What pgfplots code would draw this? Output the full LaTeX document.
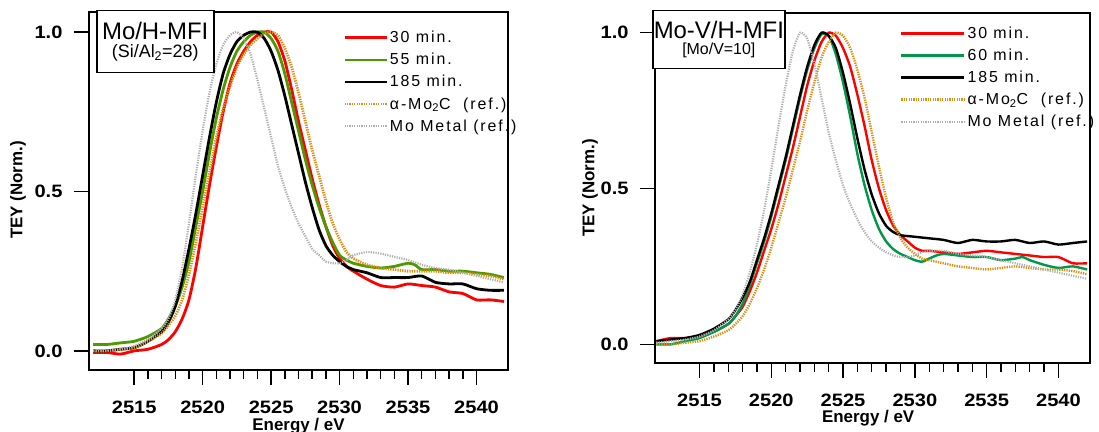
\documentclass[border=0pt]{standalone}
\usepackage{fontspec}
\setmainfont{Liberation Sans}
\newfontfamily\legfont[LetterSpace=12]{Liberation Sans}
\newfontfamily\tickfont[FakeStretch=1.12]{Liberation Sans Bold}
\usepackage{pgfplots}
\pgfplotsset{compat=1.18}

\definecolor{tred}{RGB}{255,0,0}
\definecolor{lgreen}{RGB}{77,153,0}
\definecolor{rgreen}{RGB}{0,152,72}
\definecolor{moc}{RGB}{214,145,20}
\definecolor{mom}{RGB}{175,175,175}

\pgfplotsset{
  xas/.style={
    scale only axis,
    axis line style={line width=1.4bp},
    xmin=2511.7, xmax=2542.3, ymin=-0.06, ymax=1.063,
    xtick={2515,2520,...,2540}, minor x tick num=4,
    ytick={0,0.5,1},
    tick align=outside, xtick pos=lower, ytick pos=left,
    major tick length=15bp, minor tick length=9bp,
    every tick/.style={line width=1.4bp, black},
    every minor tick/.style={line width=1.4bp, black},
    tick label style={font=\fontsize{18}{18}\tickfont},
    /pgf/number format/assume math mode=true,
    xticklabel style={yshift=-12bp, /pgf/number format/1000 sep={}},
    yticklabel style={xshift=-8bp, /pgf/number format/fixed,
      /pgf/number format/fixed zerofill, /pgf/number format/precision=1},
    label style={font=\fontsize{17}{17}\selectfont\bfseries},
    xlabel={Energy / eV}, ylabel={TEY (Norm.)},
    legend cell align=left,
    legend style={draw=none, fill=none, font=\fontsize{16}{18}\legfont, row sep=5bp, inner sep=0pt},
  },
  sol/.style={line width=2.8bp, line join=round, smooth, tension=0.4},
  dotc/.style={moc, line width=2.8bp, dash pattern=on 1.3bp off 1.1bp, smooth, tension=0.4},
  dotm/.style={mom, line width=2.2bp, dash pattern=on 1.2bp off 1.2bp, smooth, tension=0.4},
}

\begin{document}
\begin{tikzpicture}[x=1bp,y=1bp]

% ---------- left: Mo/H-MFI ----------
\begin{axis}[xas,
  at={(89bp,62bp)}, anchor=south west, width=419bp, height=358bp,
  ylabel style={at={(rel axis cs:0,0.503)}, anchor=center, yshift=71bp},
  xlabel style={at={(rel axis cs:0.5,0)}, anchor=center, yshift=-56bp},
  legend style={at={(rel axis cs:0.606,0.952)}, anchor=north west},
  legend image code/.code={\draw[#1] (0bp,0bp) -- (42bp,0bp);},
]
\addplot[sol, tred] coordinates {
(2512,-0.005)(2513,-0.005)(2514,-0.01)(2515,0.0)(2516,0.005)(2517,0.02)(2517.5,0.035)
(2518,0.06)(2518.5,0.10)(2519,0.16)(2519.5,0.26)(2520,0.39)(2520.5,0.52)(2521,0.64)
(2521.5,0.75)(2522,0.84)(2522.5,0.90)(2523,0.94)(2523.5,0.97)(2524,0.99)(2524.5,1.0)
(2525,1.0)(2525.5,0.97)(2526,0.91)(2526.5,0.82)(2527,0.72)(2527.5,0.63)(2528,0.54)
(2528.5,0.46)(2529,0.39)(2529.5,0.33)(2530,0.29)(2530.5,0.265)(2531,0.25)(2532,0.225)
(2533,0.205)(2534,0.20)(2535,0.21)(2536,0.205)(2537,0.20)(2538,0.185)(2539,0.18)
(2540,0.16)(2541,0.16)(2542,0.155)};
\addlegendentry{30 min.}
\addplot[sol, lgreen] coordinates {
(2512,0.02)(2513,0.02)(2514,0.025)(2515,0.03)(2516,0.045)(2517,0.07)(2517.5,0.10)
(2518,0.14)(2518.5,0.20)(2519,0.28)(2519.5,0.39)(2520,0.50)(2520.5,0.62)(2521,0.73)
(2521.5,0.82)(2522,0.89)(2522.5,0.94)(2523,0.97)(2523.5,0.99)(2524,1.0)(2524.5,1.0)
(2525,0.98)(2525.5,0.94)(2526,0.87)(2526.5,0.78)(2527,0.69)(2527.5,0.60)(2528,0.52)
(2528.5,0.45)(2529,0.39)(2529.5,0.34)(2530,0.30)(2530.5,0.285)(2531,0.275)(2532,0.265)
(2533,0.26)(2534,0.265)(2535,0.275)(2535.5,0.27)(2536,0.255)(2537,0.255)(2538,0.25)
(2539,0.25)(2540,0.245)(2541,0.24)(2542,0.23)};
\addlegendentry{55 min.}
\addplot[sol, black] coordinates {
(2512,0.0)(2513,0.0)(2514,0.005)(2515,0.01)(2516,0.03)(2517,0.06)(2517.5,0.09)
(2518,0.14)(2518.5,0.22)(2519,0.32)(2519.5,0.43)(2520,0.55)(2520.5,0.67)(2521,0.78)
(2521.5,0.87)(2522,0.93)(2522.5,0.97)(2523,0.99)(2523.5,1.0)(2524,1.0)(2524.5,0.98)
(2525,0.94)(2525.5,0.88)(2526,0.80)(2526.5,0.71)(2527,0.62)(2527.5,0.53)(2528,0.45)
(2528.5,0.38)(2529,0.33)(2529.5,0.30)(2530,0.28)(2530.5,0.265)(2531,0.255)(2532,0.245)
(2533,0.23)(2534,0.23)(2535,0.23)(2536,0.235)(2537,0.215)(2538,0.21)(2539,0.21)
(2540,0.195)(2541,0.19)(2542,0.19)};
\addlegendentry{185 min.}
\addplot[dotc] coordinates {
(2512,0.0)(2513,0.0)(2514,0.005)(2515,0.01)(2516,0.03)(2517,0.055)(2517.5,0.08)
(2518,0.11)(2518.5,0.16)(2519,0.24)(2519.5,0.34)(2520,0.45)(2520.5,0.56)(2521,0.67)
(2521.5,0.76)(2522,0.83)(2522.5,0.89)(2523,0.93)(2523.5,0.96)(2524,0.98)(2524.5,0.995)
(2525,1.0)(2525.5,0.99)(2526,0.95)(2526.5,0.89)(2527,0.81)(2527.5,0.72)(2528,0.63)
(2528.5,0.55)(2529,0.47)(2529.5,0.40)(2530,0.35)(2530.5,0.31)(2531,0.29)(2532,0.27)
(2533,0.26)(2534,0.255)(2535,0.25)(2536,0.25)(2537,0.25)(2538,0.245)(2539,0.245)
(2540,0.24)(2541,0.235)(2542,0.225)};
\addlegendentry{α-Mo\textsubscript{2}C\ \ (ref.)}
\addplot[dotm] coordinates {
(2512,0.0)(2513,0.0)(2514,0.005)(2515,0.015)(2516,0.035)(2517,0.07)(2517.5,0.10)
(2518,0.16)(2518.5,0.26)(2519,0.40)(2519.5,0.55)(2520,0.69)(2520.5,0.81)(2521,0.90)
(2521.5,0.96)(2522,0.99)(2522.5,1.0)(2523,0.98)(2523.5,0.93)(2524,0.85)(2524.5,0.76)
(2525,0.67)(2525.5,0.58)(2526,0.51)(2526.5,0.45)(2527,0.40)(2527.5,0.36)(2528,0.32)
(2528.5,0.30)(2529,0.28)(2529.5,0.275)(2530,0.275)(2530.5,0.285)(2531,0.30)(2532,0.31)
(2533,0.305)(2534,0.295)(2535,0.285)(2536,0.27)(2537,0.26)(2538,0.255)(2539,0.245)
(2540,0.235)(2541,0.225)(2542,0.215)};
\addlegendentry{Mo Metal (ref.)}
\end{axis}

% ---------- right: Mo-V/H-MFI ----------
\begin{axis}[xas,
  at={(655bp,69bp)}, anchor=south west, width=435bp, height=350bp,
  xmin=2511.9, xmax=2542.2,
  ylabel style={at={(rel axis cs:0,0.5)}, anchor=center, yshift=65bp},
  xlabel style={at={(rel axis cs:0.49,0)}, anchor=center, yshift=-55bp},
  legend style={at={(rel axis cs:0.563,0.966)}, anchor=north west},
  legend image code/.code={\draw[#1] (0bp,0bp) -- (63bp,0bp);},
]
\addplot[sol, line width=2.4bp, tred] coordinates {
(2512,0.01)(2513,0.02)(2514,0.02)(2515,0.025)(2516,0.04)(2517,0.065)(2517.5,0.09)
(2518,0.12)(2518.5,0.17)(2519,0.23)(2519.5,0.30)(2520,0.37)(2520.5,0.45)(2521,0.54)
(2521.5,0.63)(2522,0.73)(2522.5,0.83)(2523,0.91)(2523.5,0.97)(2524,1.0)(2524.5,0.99)
(2525,0.95)(2525.5,0.89)(2526,0.80)(2526.5,0.70)(2527,0.59)(2527.5,0.50)(2528,0.43)
(2528.5,0.38)(2529,0.35)(2529.5,0.33)(2530,0.31)(2530.5,0.30)(2531,0.30)(2532,0.295)
(2533,0.29)(2534,0.295)(2535,0.30)(2536,0.295)(2537,0.29)(2538,0.285)(2539,0.28)
(2540,0.28)(2541,0.26)(2542,0.26)};
\addlegendentry{30 min.}
\addplot[sol, line width=2.4bp, rgreen] coordinates {
(2512,0.0)(2513,0.0)(2514,0.01)(2515,0.02)(2516,0.04)(2517,0.065)(2517.5,0.09)
(2518,0.13)(2518.5,0.19)(2519,0.26)(2519.5,0.33)(2520,0.41)(2520.5,0.50)(2521,0.59)
(2521.5,0.69)(2522,0.79)(2522.5,0.88)(2523,0.95)(2523.5,0.995)(2524,0.99)(2524.5,0.93)
(2525,0.84)(2525.5,0.73)(2526,0.61)(2526.5,0.51)(2527,0.43)(2527.5,0.37)(2528,0.33)
(2528.5,0.305)(2529,0.29)(2529.5,0.28)(2530,0.27)(2530.5,0.265)(2531,0.275)(2531.5,0.285)
(2532,0.29)(2533,0.285)(2534,0.28)(2535,0.28)(2536,0.27)(2537,0.275)(2537.5,0.28)
(2538,0.27)(2539,0.255)(2540,0.245)(2541,0.25)(2542,0.24)};
\addlegendentry{60 min.}
\addplot[sol, line width=2.4bp, black] coordinates {
(2512,0.01)(2513,0.015)(2514,0.02)(2515,0.03)(2516,0.05)(2517,0.08)(2517.5,0.11)
(2518,0.15)(2518.5,0.20)(2519,0.27)(2519.5,0.34)(2520,0.42)(2520.5,0.51)(2521,0.60)
(2521.5,0.70)(2522,0.80)(2522.5,0.89)(2523,0.96)(2523.5,1.0)(2524,0.99)(2524.5,0.95)
(2525,0.87)(2525.5,0.77)(2526,0.66)(2526.5,0.56)(2527,0.48)(2527.5,0.42)(2528,0.38)
(2528.5,0.36)(2529,0.35)(2530,0.345)(2531,0.34)(2532,0.335)(2533,0.325)(2534,0.335)
(2535,0.33)(2536,0.33)(2537,0.335)(2538,0.325)(2539,0.33)(2540,0.32)(2541,0.325)
(2542,0.33)};
\addlegendentry{185 min.}
\addplot[dotc, line width=2.4bp] coordinates {
(2512,0.0)(2513,0.0)(2514,0.005)(2515,0.01)(2516,0.025)(2517,0.045)(2517.5,0.065)
(2518,0.09)(2518.5,0.13)(2519,0.18)(2519.5,0.24)(2520,0.31)(2520.5,0.39)(2521,0.47)
(2521.5,0.56)(2522,0.65)(2522.5,0.75)(2523,0.84)(2523.5,0.92)(2524,0.97)(2524.5,1.0)
(2525,0.99)(2525.5,0.95)(2526,0.88)(2526.5,0.79)(2527,0.68)(2527.5,0.57)(2528,0.47)
(2528.5,0.39)(2529,0.34)(2529.5,0.31)(2530,0.29)(2530.5,0.275)(2531,0.27)(2532,0.26)
(2533,0.25)(2534,0.245)(2535,0.24)(2536,0.245)(2537,0.25)(2538,0.245)(2539,0.24)
(2540,0.24)(2541,0.235)(2542,0.225)};
\addlegendentry{α-Mo\textsubscript{2}C\ \ (ref.)}
\addplot[dotm] coordinates {
(2512,0.005)(2513,0.01)(2514,0.015)(2515,0.025)(2516,0.045)(2517,0.08)(2517.5,0.11)
(2518,0.16)(2518.5,0.23)(2519,0.32)(2519.5,0.43)(2520,0.56)(2520.5,0.70)(2521,0.83)
(2521.5,0.94)(2522,1.0)(2522.5,0.98)(2523,0.90)(2523.5,0.79)(2524,0.68)(2524.5,0.59)
(2525,0.51)(2525.5,0.45)(2526,0.40)(2526.5,0.36)(2527,0.33)(2527.5,0.31)(2528,0.295)
(2528.5,0.285)(2529,0.28)(2529.5,0.28)(2530,0.285)(2530.5,0.295)(2531,0.30)(2532,0.30)
(2533,0.29)(2534,0.285)(2535,0.28)(2536,0.27)(2537,0.26)(2538,0.25)(2539,0.24)
(2540,0.23)(2541,0.22)(2542,0.21)};
\addlegendentry{Mo Metal (ref.)}
\end{axis}

% title boxes
\node[draw, line width=1.5bp, fill=white, anchor=north west, align=center,
      inner sep=1bp, minimum width=117bp, minimum height=62bp]
  at (96bp,422bp) {\fontsize{24}{24}\selectfont Mo/H-MFI\\[4bp]\fontsize{18}{18}\selectfont (Si/Al\textsubscript{2}=28)};
\node[draw, line width=1.5bp, fill=white, anchor=north west, align=center,
      inner sep=1bp, minimum width=132bp, minimum height=58bp]
  at (652bp,422bp) {\fontsize{24}{24}\selectfont Mo-V/H-MFI\\[4bp]\fontsize{16}{16}\selectfont {[Mo/V=10]}};

\pgfresetboundingbox
\useasboundingbox (0,0) rectangle (1099bp,432bp);
\end{tikzpicture}
\end{document}
